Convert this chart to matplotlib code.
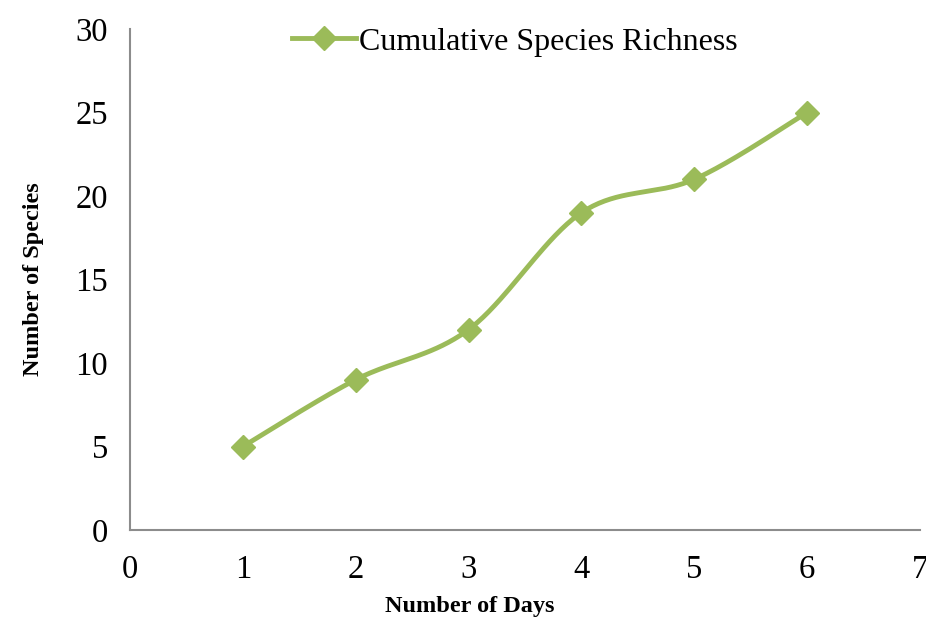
import numpy as np
import matplotlib
matplotlib.use("Agg")
import matplotlib.pyplot as plt

days = [1, 2, 3, 4, 5, 6]
species = [5, 9, 12, 19, 21, 25]
x_ticks = [0, 1, 2, 3, 4, 5, 6, 7]
y_ticks = [0, 5, 10, 15, 20, 25, 30]
series_label = "Cumulative Species Richness"
color = "#9BBB59"

def smooth(xs, ys, n=40):
    p = np.column_stack([xs, ys]).astype(float)
    pts = []
    for i in range(len(p) - 1):
        p0 = p[i - 1] if i > 0 else p[i]
        p1 = p[i]
        p2 = p[i + 1]
        p3 = p[i + 2] if i + 2 < len(p) else p[i + 1]
        c1 = p1 + (p2 - p0) / 6.0
        c2 = p2 - (p3 - p1) / 6.0
        t = np.linspace(0, 1, n)[:, None]
        seg = ((1 - t) ** 3) * p1 + 3 * ((1 - t) ** 2) * t * c1 + 3 * (1 - t) * t ** 2 * c2 + t ** 3 * p2
        pts.append(seg if i == 0 else seg[1:])
    a = np.vstack(pts)
    return a[:, 0], a[:, 1]

plt.rcParams['font.family'] = ['Liberation Serif', 'DejaVu Serif']

fig = plt.figure(figsize=(9.26, 6.21), dpi=100)
ax = fig.add_axes([130/926, 1 - 530/621, 790/926, 501/621])

sx, sy = smooth(days, species)
ax.plot(sx, sy, color=color, lw=3.5, solid_capstyle='round', zorder=2)
ax.plot(days, species, linestyle='none', marker='D', markersize=12, color=color, zorder=3)
handle, = ax.plot([], [], color=color, lw=3.5, marker='D', markersize=12)

ax.set_xlim(0, 7)
ax.set_ylim(0, 30)
ax.set_xticks(x_ticks)
ax.set_yticks(y_ticks)
ax.tick_params(axis='both', length=0, labelsize=23.5)
ax.tick_params(axis='x', pad=18)
ax.tick_params(axis='y', pad=16)
for s in ['top', 'right']:
    ax.spines[s].set_visible(False)
for s in ['left', 'bottom']:
    ax.spines[s].set_color('#8c8c8c')
    ax.spines[s].set_linewidth(1.5)

ax.set_xlabel("Number of Days", fontsize=17.5, fontweight='bold')
ax.set_ylabel("Number of Species", fontsize=17.5, fontweight='bold')
ax.xaxis.set_label_coords(340/790, -66/501)
ax.yaxis.set_label_coords(-86/790, 0.5)

leg = ax.legend([handle], [series_label], loc='center', bbox_to_anchor=(385/790, (530-42)/501),
                frameon=False, fontsize=23, handlelength=2.0, handletextpad=0.1)

fig.savefig("out.png", dpi=100)
